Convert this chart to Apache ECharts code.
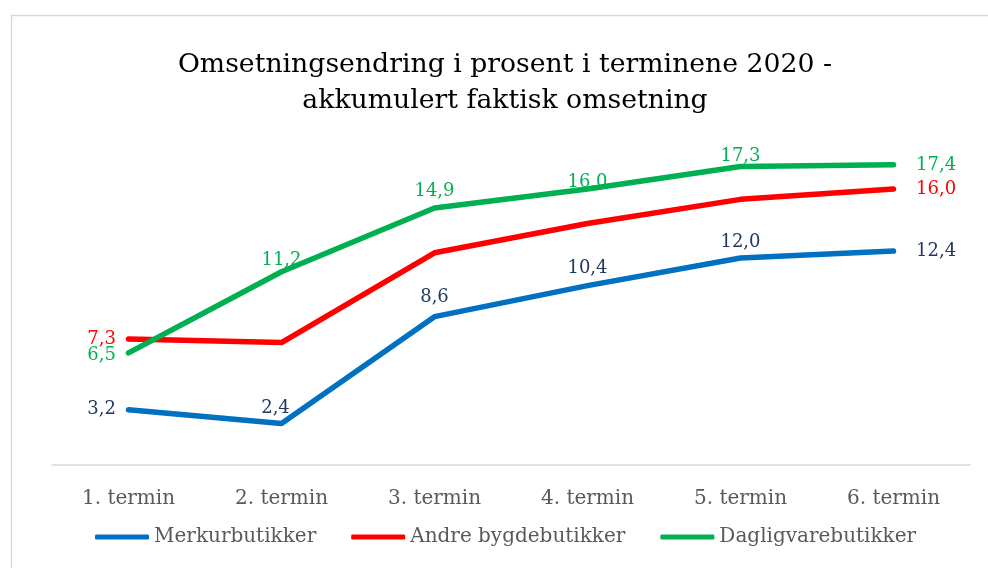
<!DOCTYPE html>
<html>
<head>
<meta charset="UTF-8">
<title>Omsetningsendring</title>
<script src="https://cdn.jsdelivr.net/npm/echarts@6/dist/echarts.min.js"></script>
<style>
  * {margin: 0; padding: 0;}
  body {background: #fff;}
  #chart {width: 988px; height: 568px;}
</style>
</head>
<body>
<div id="chart"></div>
<script>
// kategorier og verdier lest av figuren
var terminer = ['1. termin', '2. termin', '3. termin', '4. termin', '5. termin', '6. termin'];
var merkur = [3.2, 2.4, 8.6, 10.4, 12.0, 12.4];
var andre = [7.3, 7.1, 12.3, 14.0, 15.4, 16.0];
var dagligvare = [6.5, 11.2, 14.9, 16.0, 17.3, 17.4];

var serif = '"DejaVu Serif", "Liberation Serif", serif';

// plassering av etiketter per punkt (null = ingen etikett)
function labelled(values, positions, color) {
  return values.map(function (v, i) {
    var p = positions[i];
    if (!p) return {value: v, label: {show: false}};
    return {
      value: v,
      label: {
        show: true,
        position: p[0],
        distance: p[1],
        offset: p[2] || [0, 0],
        color: color
      }
    };
  });
}

function fmt(p) {
  return p.value.toFixed(1).replace('.', ',');
}

function line(name, color, data) {
  return {
    name: name,
    type: 'line',
    data: data,
    symbol: 'circle',
    symbolSize: 1,
    itemStyle: {color: color},
    lineStyle: {color: color, width: 5.5, cap: 'round', join: 'round'},
    label: {fontFamily: serif, fontSize: 18, formatter: fmt},
    emphasis: {disabled: true},
    animation: false
  };
}

var chart = echarts.init(document.getElementById('chart'));

chart.setOption({
  backgroundColor: '#fff',
  graphic: [{
    type: 'rect',
    shape: {x: 11.5, y: 15.5, width: 1000, height: 600},
    style: {fill: 'none', stroke: '#d9d9d9', lineWidth: 1.5},
    silent: true
  }],
  title: {
    text: 'Omsetningsendring i prosent i terminene 2020 -\nakkumulert faktisk omsetning',
    left: 500,
    textAlign: 'center',
    top: 42,
    textStyle: {fontFamily: serif, fontSize: 26.7, fontWeight: 'normal', color: '#000', lineHeight: 36}
  },
  grid: {left: 52, right: 18, top: 120, bottom: 103},
  xAxis: {
    type: 'category',
    data: terminer,
    boundaryGap: true,
    axisTick: {show: false},
    axisLine: {lineStyle: {color: '#d9d9d9', width: 1.5}},
    axisLabel: {fontFamily: serif, fontSize: 20, color: '#595959', margin: 24}
  },
  yAxis: {
    type: 'value',
    min: 0,
    max: 20,
    show: false,
    splitLine: {show: false}
  },
  legend: {
    bottom: 16,
    left: 90,
    itemGap: 35,
    itemWidth: 54,
    itemHeight: 5,
    icon: 'roundRect',
    textStyle: {fontFamily: serif, fontSize: 20, color: '#595959'},
    data: ['Merkurbutikker', 'Andre bygdebutikker', 'Dagligvarebutikker']
  },
  series: [
    line('Merkurbutikker', '#0070c0', labelled(merkur, [
      ['left', 12], ['top', 6, [-6, 0]], ['top', 10], ['top', 8], ['top', 6], ['right', 22]
    ], '#203864')),
    line('Andre bygdebutikker', '#ff0000', labelled(andre, [
      ['left', 12], null, null, null, null, ['right', 22]
    ], '#ff0000')),
    line('Dagligvarebutikker', '#00b050', labelled(dagligvare, [
      ['left', 12, [0, 2]], ['top', 2], ['top', 7], ['top', 0, [0, 3]], ['top', 1], ['right', 22]
    ], '#00b050'))
  ]
});
</script>
</body>
</html>
